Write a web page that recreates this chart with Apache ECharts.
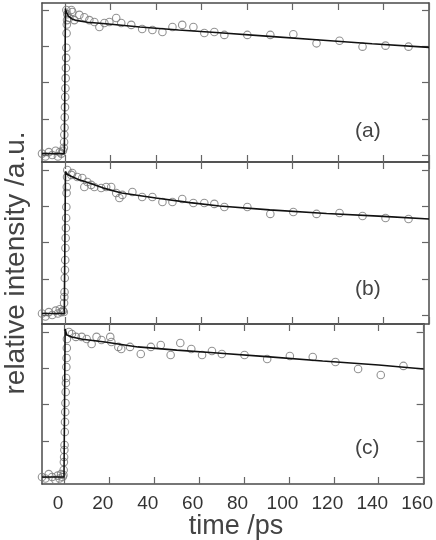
<!DOCTYPE html>
<html>
<head>
<meta charset="utf-8">
<script src="https://cdn.jsdelivr.net/npm/echarts@6/dist/echarts.min.js"></script>
<style>
  html, body { margin: 0; padding: 0; background: #fff; }
  #chart { width: 436px; height: 540px; }
</style>
</head>
<body>
<div id="chart"></div>
<script>
// tick positions
const xTicks = [0, 20, 40, 60, 80, 100, 120, 140, 160]
const yTicks = [0, 0.25, 0.5, 0.75, 1]

// panel (a) measured points
const timeA = [-10, -8.5, -7, -5.5, -4, -3, -2.2, -1.5, -0.8,
  -0.4, -0.3, -0.2, -0.1, 0, 0.1, 0.2, 0.3, 0.4, 0.5, 0.6, 0.7, 0.8, 0.9, 1.0,
  0.7, 1.1, 2.0, 2.9, 3.3, 4.2, 6.4, 8.6, 10.8, 13, 15.2, 17.4, 19.6, 22.6, 24.8, 29.2,
  34, 38.5, 42.9, 47.3, 51.6, 56.5, 61.3, 65.7, 70.1, 80.2, 90.3, 100.4, 110.6, 120.7,
  130.8, 140.9, 151]
const valueA = [0.01, -0.01, 0.02, 0.0, 0.03, -0.01, 0.02, 0.01, 0.03,
  0.05, 0.09, 0.14, 0.19, 0.26, 0.33, 0.40, 0.46, 0.53, 0.60, 0.67, 0.74, 0.84, 0.90, 0.93,
  1.0, 0.97, 0.945, 1.0, 0.986, 0.93, 0.966, 0.95, 0.93, 0.917, 0.883, 0.91, 0.917, 0.945, 0.91, 0.897,
  0.869, 0.862, 0.848, 0.883, 0.897, 0.883, 0.841, 0.848, 0.828, 0.828, 0.828, 0.833, 0.77, 0.788,
  0.747, 0.754, 0.747]
// panel (a) fit
const fitTimeA = [-10, -0.2, 0.3, 0.6, 1.5, 3, 5, 10, 18, 33, 50, 68, 90, 112, 135, 160]
const fitA = [0.01, 0.01, 1.01, 0.99, 0.96, 0.94, 0.928, 0.915, 0.905, 0.883, 0.862, 0.843, 0.818, 0.793, 0.767, 0.742]

// panel (b) measured points
const timeB = [-10, -8.5, -7, -5.5, -4, -3, -2.2, -1.5, -0.8,
  -0.4, -0.3, -0.2, -0.1, 0, 0.1, 0.2, 0.3, 0.4, 0.5, 0.6, 0.7, 0.8, 0.9, 1.0,
  1.1, 3.3, 2.9, 5.5, 7.7, 9.9, 8.6, 11.6, 13, 16, 18.2, 20.4, 22.6, 24, 25.3, 29.7,
  34, 38.5, 42.9, 47.3, 51.6, 56.5, 61.3, 65.7, 70.1, 80.2, 90.3, 100.4, 110.6, 120.7,
  130.8, 140.9, 151]
const valueB = [0.01, -0.01, 0.02, 0.0, 0.03, 0.01, 0.04, 0.02, 0.03,
  0.021, 0.083, 0.124, 0.159, 0.255, 0.31, 0.379, 0.462, 0.531, 0.6, 0.669, 0.745, 0.841, 0.883, 0.952,
  1.0, 0.979, 0.966, 0.952, 0.945, 0.917, 0.883, 0.897, 0.883, 0.876, 0.883, 0.883, 0.841, 0.807, 0.828, 0.848,
  0.814, 0.814, 0.779, 0.779, 0.8, 0.772, 0.772, 0.766, 0.745, 0.745, 0.697, 0.71, 0.697, 0.703,
  0.683, 0.669, 0.662]
const fitTimeB = [-10, -0.2, 0.3, 1, 3, 6, 10.8, 17, 25, 40, 55, 68, 90, 115, 140, 160]
const fitB = [0.01, 0.01, 0.99, 0.97, 0.955, 0.935, 0.91, 0.875, 0.841, 0.807, 0.775, 0.752, 0.725, 0.7, 0.68, 0.662]

// panel (c) measured points
const timeC = [-10, -8.5, -7, -5.5, -4, -3, -2.2, -1.5, -0.8,
  -0.45, -0.35, -0.25, -0.15, -0.05, 0.05, 0.15, 0.25, 0.35, 0.45, 0.55, 0.65, 0.75, 0.85, 0.95, 1.05,
  2.0, 3.3, 1.1, 5.1, 7.7, 9.9, 12.1, 14.3, 16.5, 20.4, 20.9, 24, 25.3, 29.2,
  34, 38.5, 42.9, 47.3, 51.6, 56.5, 61.3, 65.7, 70.1, 80.2, 90.3, 100.4, 110.6, 120.7,
  130.8, 140.9, 151]
const valueC = [0.0, -0.01, 0.02, 0.0, -0.02, 0.01, -0.01, 0.02, 0.0,
  0.014, 0.048, 0.103, 0.138, 0.186, 0.221, 0.31, 0.379, 0.448, 0.51, 0.586, 0.648, 0.683, 0.759, 0.821, 0.89,
  1.0, 0.986, 0.952, 0.966, 0.966, 0.952, 0.917, 0.966, 0.945, 0.966, 0.931, 0.897, 0.883, 0.897,
  0.848, 0.897, 0.91, 0.841, 0.924, 0.883, 0.841, 0.869, 0.848, 0.841, 0.814, 0.834, 0.828, 0.793,
  0.745, 0.703, 0.766]
const fitTimeC = [-10, -0.2, 0.3, 1, 3.3, 8, 18, 32.7, 50, 68, 90, 115, 140, 160]
const fitC = [0.0, 0.0, 1.02, 0.98, 0.966, 0.95, 0.931, 0.897, 0.875, 0.855, 0.83, 0.8, 0.772, 0.745]

const panelLabels = ['(a)', '(b)', '(c)']

const zip = (xs, ys) => xs.map((x, i) => [x, ys[i]])

const panels = [
  { time: timeA, value: valueA, fitTime: fitTimeA, fit: fitA, top: 3, height: 159, yMin: -0.048, yMax: 1.048, labelTop: 121 },
  { time: timeB, value: valueB, fitTime: fitTimeB, fit: fitB, top: 162, height: 162, yMin: -0.062, yMax: 1.055, labelTop: 279 },
  { time: timeC, value: valueC, fitTime: fitTimeC, fit: fitC, top: 324, height: 160, yMin: -0.048, yMax: 1.055, labelTop: 438 }
]

const frameColor = '#4a4a4a'
const tickColor = '#666'
const font = 'Liberation Sans'

const grid = []
const xAxis = []
const yAxis = []
const series = []
const graphic = []

panels.forEach((p, i) => {
  grid.push({ left: 42, right: 7, top: p.top, height: p.height })
  const isLast = i === panels.length - 1
  // bottom and top x axes
  ;['bottom', 'top'].forEach(pos => {
    xAxis.push({
      type: 'value',
      gridIndex: i,
      position: pos,
      min: -10,
      max: 160,
      axisLine: { show: true, onZero: false, lineStyle: { color: frameColor, width: 1.5 } },
      axisTick: { show: true, inside: true, length: 7, customValues: xTicks, lineStyle: { color: tickColor, width: 1.2 } },
      axisLabel: {
        show: isLast && pos === 'bottom',
        customValues: xTicks,
        margin: 10,
        padding: [0, 13, 0, 0],
        color: '#333',
        fontSize: 19,
        fontFamily: font
      },
      splitLine: { show: false }
    })
  })
  // left and right y axes
  ;['left', 'right'].forEach(pos => {
    yAxis.push({
      type: 'value',
      gridIndex: i,
      position: pos,
      min: p.yMin,
      max: p.yMax,
      axisLine: { show: true, onZero: false, lineStyle: { color: frameColor, width: 1.5 } },
      axisTick: { show: true, inside: true, length: 7, customValues: yTicks, lineStyle: { color: tickColor, width: 1.2 } },
      axisLabel: { show: false },
      splitLine: { show: false }
    })
  })
  series.push({
    type: 'scatter',
    xAxisIndex: 2 * i,
    yAxisIndex: 2 * i,
    symbol: 'circle',
    symbolSize: 7.5,
    itemStyle: { color: 'rgba(0,0,0,0)', borderColor: '#777', borderWidth: 1.1 },
    data: zip(p.time, p.value),
    z: 2
  })
  series.push({
    type: 'line',
    xAxisIndex: 2 * i,
    yAxisIndex: 2 * i,
    showSymbol: false,
    lineStyle: { color: '#111', width: 1.6 },
    data: zip(p.fitTime, p.fit),
    z: 3
  })
  graphic.push({
    type: 'text',
    left: 355,
    top: p.labelTop,
    style: { text: panelLabels[i], font: '21px ' + font, fill: '#444' }
  })
})

graphic.push({
  type: 'text',
  x: 16,
  y: 263,
  rotation: Math.PI / 2,
  style: { text: 'relative intensity /a.u.', font: '28px ' + font, fill: '#444', align: 'center', verticalAlign: 'middle' }
})
graphic.push({
  type: 'text',
  x: 236,
  y: 527,
  style: { text: 'time /ps', font: '27px ' + font, fill: '#444', align: 'center', verticalAlign: 'middle' }
})

const chart = echarts.init(document.getElementById('chart'))
chart.setOption({
  animation: false,
  backgroundColor: '#fff',
  grid: grid,
  xAxis: xAxis,
  yAxis: yAxis,
  series: series,
  graphic: graphic
})
</script>
</body>
</html>
